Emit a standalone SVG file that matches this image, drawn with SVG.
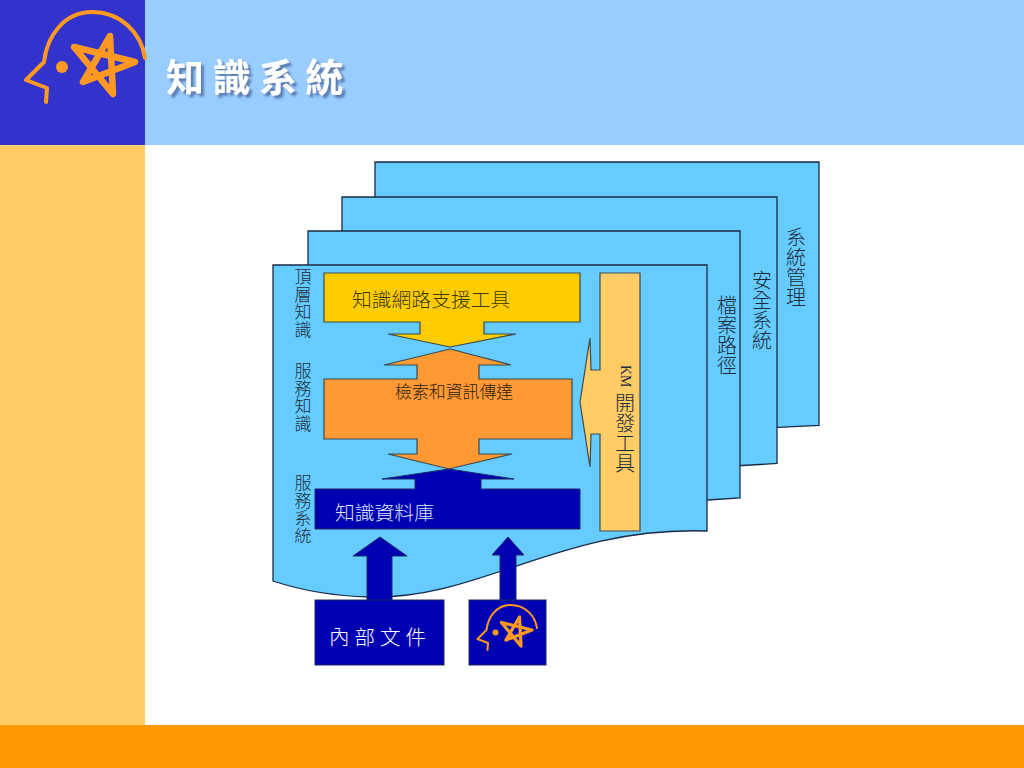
<svg xmlns="http://www.w3.org/2000/svg" width="1024" height="768" viewBox="0 0 1024 768">
<style>
text{font-family:"Noto Sans CJK TC","Noto Sans CJK SC",sans-serif;font-weight:300}
.sheet{fill:#66CCFF;stroke:#1a2a44;stroke-width:1.3}
.block{stroke:#3a4a50;stroke-width:1.2}
.blue{fill:#0000B3;stroke:#1a2a66;stroke-width:1}
.v{writing-mode:vertical-rl;text-anchor:start;fill:#1c2a3a;font-size:20px}
.vs{font-size:17px;letter-spacing:.6px}
.arc{fill:none;stroke:#FF9922;stroke-width:4;stroke-linecap:round;stroke-linejoin:round}
.star{fill:none;stroke:#FF9922;stroke-width:6.500;stroke-linejoin:round;stroke-linecap:round}
</style>
<defs>
<filter id="shadow" x="-10%" y="-20%" width="125%" height="150%"><feDropShadow dx="3" dy="3" stdDeviation="1" flood-color="#5577aa" flood-opacity=".9"/></filter>
<g id="logo">
<path class="arc" d="M145 58C141 32 120 12 92 12C64 12 47 36 44 62L26 80L47 88L46 102"/>
<circle cx="62" cy="67" r="6" fill="#FF9922"/>
<path class="star" d="M110 36L83 82L135 62L74 47L113 94Z"/>
</g>
</defs>
<rect width="1024" height="768" fill="#fff"/>
<g id="background">
<rect x="145" width="879" height="145" fill="#99CCFF"/>
<rect y="145" width="145" height="580" fill="#FFCC66"/>
<rect y="725" width="1024" height="43" fill="#FF9900"/>
<rect width="145" height="145" fill="#3333CC"/>
<use href="#logo"/>
</g>
<text id="title" x="166" y="91" font-size="38" style="font-weight:700" letter-spacing="8.500" fill="#fff" filter="url(#shadow)">知識系統</text>
<g id="sheet-system">
<path class="sheet" d="M375 162H819V425.500L700 431L375 440Z"/>
<text class="v" x="796" y="227">系統管理</text>
</g>
<g id="sheet-security">
<path class="sheet" d="M342 197H777V463.500L700 468L342 480Z"/>
<text class="v" x="762" y="270">安全系統</text>
</g>
<g id="sheet-file">
<path class="sheet" d="M308 231H740V498L700 500.500L308 520Z"/>
<text class="v" x="727" y="295">檔案路徑</text>
</g>
<g id="sheet-main">
<path class="sheet" d="M273 265H707V531C560 526 480 600 370 597C330 596 300 590 273 581Z"/>
<text class="v vs" x="303" y="268">頂層知識</text>
<text class="v vs" x="303" y="362">服務知識</text>
<text class="v vs" x="303" y="474">服務系統</text>
</g>
<g id="connectors">
<path class="blue" d="M380 537L407 556H392V601H367V556H353Z"/>
<path class="blue" d="M508 537L524 555H516V601H500V555H492Z"/>
</g>
<g id="node-network">
<path class="block" fill="#FFCC00" d="M324 273H580V322H484V334H516L450 347L388 334H420V322H324Z"/>
<text x="352" y="307" font-size="19.800" fill="#3a3a10">知識網路支援工具</text>
</g>
<g id="node-retrieval">
<path class="block" fill="#FF9933" d="M450 349L511 365H479V379H572V439H479V454H512L449 469L388 454H417V439H324V379H417V365H384Z"/>
<text x="395" y="398" font-size="16.900" fill="#2a2010">檢索和資訊傳達</text>
</g>
<g id="node-database">
<path class="blue" d="M449 469L514 479H481V489H580V529H315V489H415V479H382Z"/>
<text x="335" y="520" font-size="19.800" fill="#dfe6ff">知識資料庫</text>
</g>
<g id="node-km">
<path class="block" fill="#FFCC66" d="M600 273H640V531H600V434H591L590 467L580 402L590 338L591 370H600Z"/>
<text class="v" x="625" y="365"><tspan style="font-family:'Liberation Serif',serif;font-size:14px">KM</tspan> <tspan y="393">開發工具</tspan></text>
</g>
<g id="node-internal">
<rect class="blue" x="315" y="600" width="129" height="65"/>
<text x="329" y="645" font-size="20.500" letter-spacing="5" fill="#fff">內部文件</text>
</g>
<g id="node-logo">
<rect class="blue" x="469" y="600" width="77" height="65"/>
<use href="#logo" transform="translate(464.500 599) scale(.5)"/>
</g>
</svg>
